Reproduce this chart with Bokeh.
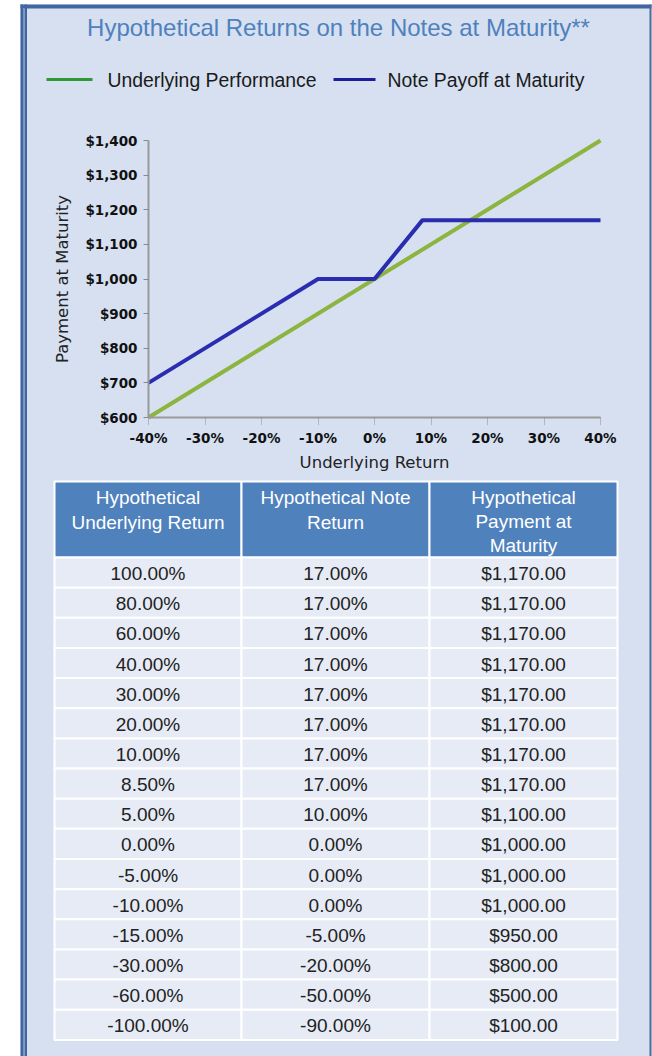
from bokeh.plotting import figure
from bokeh.models import Range1d, FixedTicker, NumeralTickFormatter, LinearAxis
from bokeh.embed import file_html
from bokeh.resources import INLINE
from bokeh.core.properties import value

# ---------------- data ----------------
TITLE = "Hypothetical Returns on the Notes at Maturity**"
SERIES_NAMES = ["Underlying Performance", "Note Payoff at Maturity"]

underlying_x = [-40, 40]
underlying_y = [600, 1400]
note_x = [-40, -10, 0, 8.5, 40]
note_y = [700, 1000, 1000, 1170, 1170]

x_ticks = [-40, -30, -20, -10, 0, 10, 20, 30, 40]
x_tick_labels = ["-40%", "-30%", "-20%", "-10%", "0%", "10%", "20%", "30%", "40%"]
y_ticks = [600, 700, 800, 900, 1000, 1100, 1200, 1300, 1400]
X_LABEL = "Underlying Return"
Y_LABEL = "Payment at Maturity"

table_headers = [["Hypothetical", "Underlying Return"],
                 ["Hypothetical Note", "Return"],
                 ["Hypothetical", "Payment at", "Maturity"]]
table_underlying = [100, 80, 60, 40, 30, 20, 10, 8.5, 5, 0, -5, -10, -15, -30, -60, -100]
table_note = [17, 17, 17, 17, 17, 17, 17, 17, 10, 0, 0, 0, -5, -20, -50, -90]
table_payment = [1170, 1170, 1170, 1170, 1170, 1170, 1170, 1170, 1100, 1000, 1000, 1000,
                 950, 800, 500, 100]

# ---------------- styles / layout constants (pixels, top-down) ----------------
W, H = 652, 1056
BG = "#d6e0f1"
TITLE_COLOR = "#4f81bd"
GREEN_LINE = "#8cb43f"
BLUE_LINE = "#2a2db0"
GREEN_LEG = "#2e9a36"
BLUE_LEG = "#1c1f9c"
HEADER_BG = "#4f81bd"
CELL_BG = "#e6ebf5"
BORDER = "#4266a2"
SANS = value("Liberation Sans")

# chart area in canvas pixels
FR_L, FR_R, FR_T, FR_B = 148, 600, 140, 417
X0, X1, Y0, Y1 = -40, 40, 600, 1400

sx = (FR_R - FR_L) / (X1 - X0)
sy = (FR_B - FR_T) / (Y1 - Y0)
cx_range = Range1d(X0 - FR_L / sx, X1 + (W - FR_R) / sx)
cy_range = Range1d(Y0 - (H - FR_B) / sy, Y1 + FR_T / sy)

p = figure(width=W, height=H, x_range=Range1d(0, W), y_range=Range1d(H, 0),
           x_axis_type=None, y_axis_type=None, output_backend="svg",
           toolbar_location=None, min_border=0)
p.min_border_left = p.min_border_right = p.min_border_top = p.min_border_bottom = 0
p.background_fill_color = "white"
p.border_fill_color = "white"
p.outline_line_color = None
p.extra_x_ranges = {"cx": cx_range}
p.extra_y_ranges = {"cy": cy_range}

# ---------------- panel ----------------
PL, PR, PT = 20, 651, 4
p.quad(left=[PL], right=[PR], top=[PT], bottom=[H], fill_color=BG, line_color=None)
p.quad(left=[PL], right=[PR], top=[PT], bottom=[PT + 4], fill_color=BORDER, line_color=None)
p.quad(left=[PL, PL + 4], right=[PL + 2.5, PL + 6.5], top=[PT, PT], bottom=[H, H],
       fill_color=BORDER, line_color=None)
p.quad(left=[PL + 2.5], right=[PL + 4], top=[PT + 4], bottom=[H], fill_color="#7895c8",
       line_color=None)
p.quad(left=[PR - 2], right=[PR], top=[PT], bottom=[H], fill_color="#4a6b9c", line_color=None)

# ---------------- title + legend ----------------
p.text(x=[338], y=[27], text=[TITLE], text_align="center", text_baseline="middle",
       text_font=SANS, text_font_size="24px", text_color=TITLE_COLOR)
leg_y = 79
p.segment(x0=[46, 333], y0=[leg_y, leg_y], x1=[92, 375], y1=[leg_y, leg_y],
          line_color=[GREEN_LEG, BLUE_LEG], line_width=3)
p.text(x=[107, 387], y=[leg_y, leg_y], text=SERIES_NAMES, text_align="left",
       text_baseline="middle", text_font=SANS, text_font_size="19.4px", text_color="#1a1a1a")

# ---------------- chart ----------------
p.line(underlying_x, underlying_y, line_color=GREEN_LINE, line_width=4,
       x_range_name="cx", y_range_name="cy")
p.line(note_x, note_y, line_color=BLUE_LINE, line_width=4,
       x_range_name="cx", y_range_name="cy")

xaxis = LinearAxis(x_range_name="cx", y_range_name="cy", fixed_location=Y0, bounds=(X0, X1),
                   ticker=FixedTicker(ticks=x_ticks), axis_label=X_LABEL)
xaxis.major_label_overrides = dict(zip(x_ticks, x_tick_labels))
yaxis = LinearAxis(x_range_name="cx", y_range_name="cy", fixed_location=X0, bounds=(Y0, Y1),
                   ticker=FixedTicker(ticks=y_ticks), axis_label=Y_LABEL,
                   formatter=NumeralTickFormatter(format="$0,0"))
for ax in (xaxis, yaxis):
    ax.axis_line_color = "#9a9a9a"
    ax.axis_line_width = 2
    ax.major_tick_line_color = "#8a8a8a"
    ax.minor_tick_line_color = None
    ax.major_tick_in = 0
    ax.major_label_text_font = "DejaVu Sans"
    ax.major_label_text_font_style = "bold"
    ax.major_label_text_font_size = "13.5px"
    ax.major_label_text_color = "#111111"
    ax.axis_label_text_font = "DejaVu Sans"
    ax.axis_label_text_font_style = "normal"
    ax.axis_label_text_font_size = "16.5px"
    ax.axis_label_text_color = "#222222"
xaxis.major_tick_out = 7
xaxis.major_tick_line_dash = "1 1"
xaxis.major_label_standoff = 5
xaxis.axis_label_standoff = 4
yaxis.major_tick_out = 5
yaxis.major_label_standoff = 6
yaxis.axis_label_standoff = 10
p.add_layout(xaxis, "below")
p.add_layout(yaxis, "left")

# ---------------- table ----------------
col_edges = [54, 241, 429, 617]
head_top, head_bot = 481, 557
row_h = 30.15
n_rows = len(table_underlying)
centers = [(col_edges[i] + col_edges[i + 1]) / 2 for i in range(3)]

p.quad(left=col_edges[:-1], right=col_edges[1:], top=[head_top] * 3, bottom=[head_bot] * 3,
       fill_color=HEADER_BG, line_color="white", line_width=2)
line_y = [[497, 522], [497, 522], [497, 521, 545]]
hx, hy, ht = [], [], []
for ci, lines in enumerate(table_headers):
    for li, t in enumerate(lines):
        hx.append(centers[ci])
        hy.append(line_y[ci][li])
        ht.append(t)
p.text(x=hx, y=hy, text=ht, text_align="center", text_baseline="middle",
       text_font=SANS, text_font_size="19px", text_color="white")

cols_text = [[f"{v:.2f}%" for v in table_underlying],
             [f"{v:.2f}%" for v in table_note],
             [f"${v:,.2f}" for v in table_payment]]
ql, qr, qt, qb, tx, ty, tt = [], [], [], [], [], [], []
for r in range(n_rows):
    top = head_bot + r * row_h
    for ci in range(3):
        ql.append(col_edges[ci])
        qr.append(col_edges[ci + 1])
        qt.append(top)
        qb.append(top + row_h)
        tx.append(centers[ci])
        ty.append(top + row_h / 2 + 1)
        tt.append(cols_text[ci][r])
p.quad(left=ql, right=qr, top=qt, bottom=qb, fill_color=CELL_BG, line_color="white",
       line_width=2)
p.text(x=tx, y=ty, text=tt, text_align="center", text_baseline="middle",
       text_font=SANS, text_font_size="19px", text_color="#222222")

open("out.html", "w").write(file_html(p, INLINE))
